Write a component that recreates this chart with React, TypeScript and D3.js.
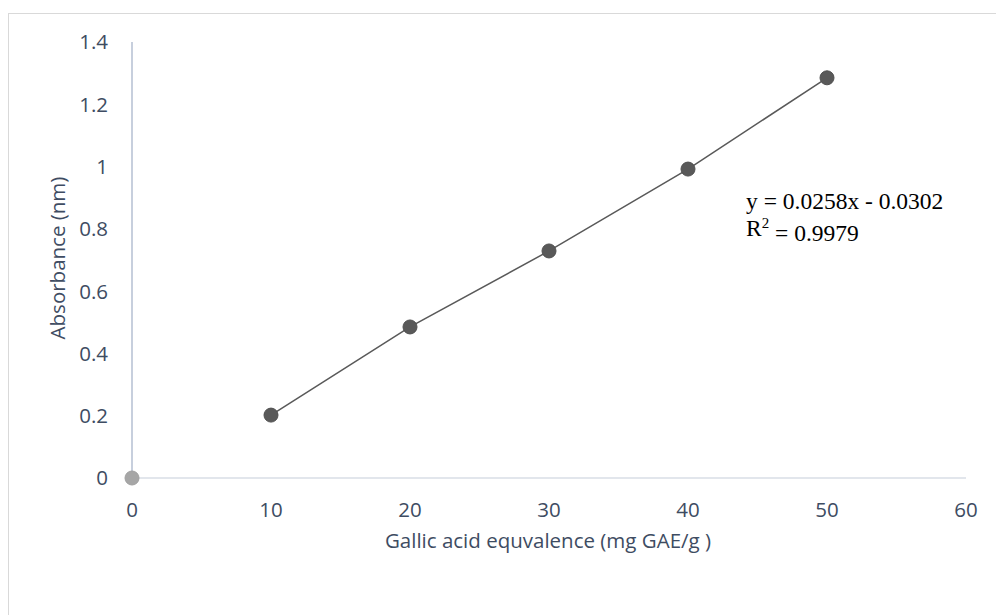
import React from "react";
import * as d3 from "d3";

const xValues = [10, 20, 30, 40, 50];
const yValues = [0.202, 0.485, 0.729, 0.992, 1.285];
const originX = [0];
const originY = [0];
const xTicks = [0, 10, 20, 30, 40, 50, 60];
const yTicks = [0, 0.2, 0.4, 0.6, 0.8, 1, 1.2, 1.4];
const equationLines = ["y = 0.0258x - 0.0302", "R² = 0.9979"];
const xTitle = "Gallic acid equvalence (mg GAE/g )";
const yTitle = "Absorbance (nm)";

export default function App() {
  const W = 996, H = 615;
  const x = d3.scaleLinear().domain([0, 60]).range([132, 966]);
  const y = d3.scaleLinear().domain([0, 1.4]).range([478, 42]);
  const pts = xValues.map((v, i) => [v, yValues[i]] as [number, number]);
  const line = d3.line<[number, number]>().x(d => x(d[0])).y(d => y(d[1]));
  const font = "'Open Sans', 'Noto Sans', sans-serif";
  const txt = "#3e4c62";
  const fs = 20.5;
  return (
    <svg width={W} height={H} style={{ position: "absolute", left: 0, top: 0 }}>
      <rect x={0} y={0} width={W} height={H} fill="#fff" />
      <rect x={8.5} y={13.5} width={W + 10} height={H + 10} fill="none" stroke="#d9d9d9" strokeWidth={1} />
      <line x1={x(0)} x2={x(60)} y1={y(0)} y2={y(0)} stroke="#d9dee6" strokeWidth={1.5} />
      <line x1={x(0)} x2={x(0)} y1={y(0)} y2={y(1.4)} stroke="#b4bfd2" strokeWidth={1.5} />
      {yTicks.map(t => (
        <text key={"y" + t} x={108} y={y(t)} dy="0.36em" textAnchor="end" fontFamily={font} fontSize={fs} fill={txt}>{String(t)}</text>
      ))}
      {xTicks.map(t => (
        <text key={"x" + t} x={x(t)} y={510} dy="0.36em" textAnchor="middle" fontFamily={font} fontSize={fs} fill={txt}>{String(t)}</text>
      ))}
      <text x={548} y={541} dy="0.36em" textAnchor="middle" fontFamily={font} fontSize={fs} fill={txt}>{xTitle}</text>
      <text transform={`translate(58,258) rotate(-90)`} dy="0.36em" textAnchor="middle" fontFamily={font} fontSize={fs} fill={txt}>{yTitle}</text>
      <path d={line(pts) || ""} fill="none" stroke="#595959" strokeWidth={1.5} />
      {pts.map((p, i) => (
        <circle key={i} cx={x(p[0])} cy={y(p[1])} r={7} fill="#595959" stroke="#505050" strokeWidth={1} />
      ))}
      {originX.map((v, i) => (
        <circle key={"o" + i} cx={x(v)} cy={y(originY[i])} r={7} fill="#a6a6a6" stroke="#a0a0a0" strokeWidth={1} />
      ))}
      {equationLines.map((l, i) => (
        <text key={l} x={746} y={201 + i * 27} dy="0.35em" fontFamily="'Liberation Serif', 'Times New Roman', serif" fontSize={23.5} fill="#000">
          {i === 1 ? (<><tspan>R</tspan><tspan fontSize={15} dy="-0.55em">2</tspan><tspan dy="0.55em"> = 0.9979</tspan></>) : l}
        </text>
      ))}
    </svg>
  );
}
